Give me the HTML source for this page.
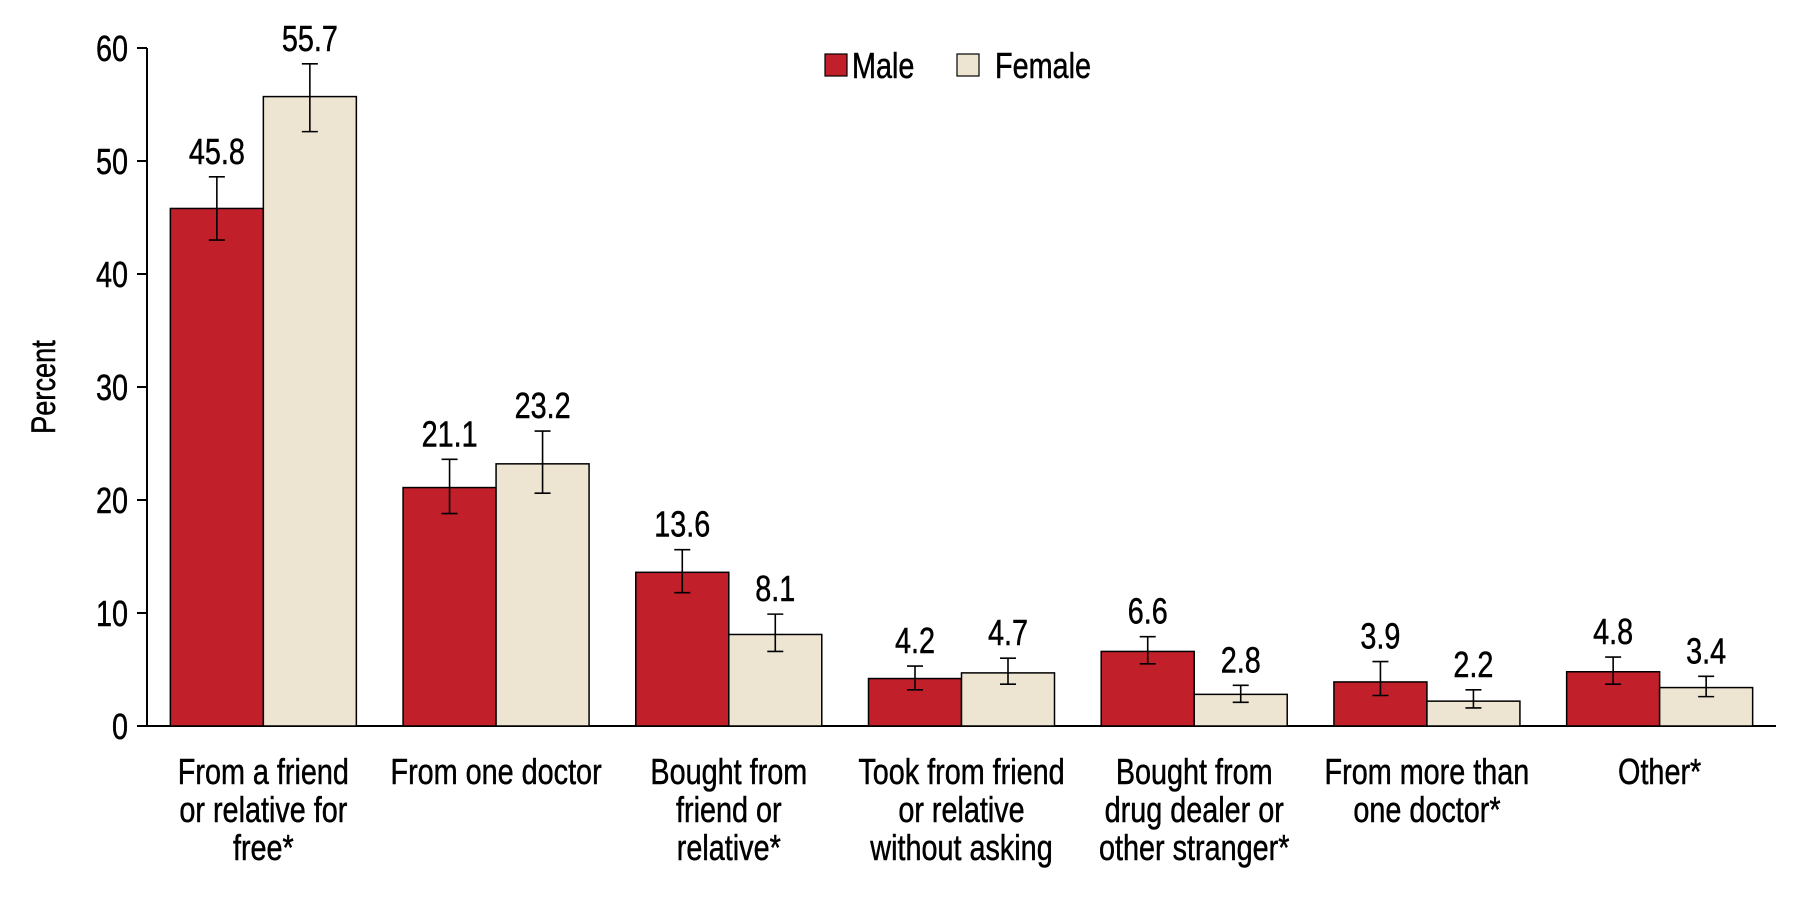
<!DOCTYPE html>
<html><head><meta charset="utf-8"><style>
html,body{margin:0;padding:0;background:#fff;}
svg{display:block;font-family:"Liberation Sans",sans-serif;}
svg text{stroke:#000;stroke-width:0.5px;fill:#000;}
</style></head><body>
<svg id="chart" width="1800" height="900" viewBox="0 0 1800 900">
<g id="axes"></g>
<g id="bars"></g>
<g id="legend">
<rect x="825" y="54" width="22" height="22" fill="#C1202A" stroke="#000" stroke-width="1.2"/>
<text transform="translate(852,78) scale(0.8,1)" font-size="36">Male</text>
<rect x="957" y="54" width="22" height="22" fill="#EDE5D2" stroke="#000" stroke-width="1.2"/>
<text transform="translate(995,78) scale(0.8,1)" font-size="36">Female</text>
</g>
<text transform="translate(55,387) rotate(-90) scale(0.8,1)" font-size="34" text-anchor="middle">Percent</text>
</svg>
<script>
const categories=[["From a friend","or relative for","free*"],["From one doctor"],["Bought from","friend or","relative*"],["Took from friend","or relative","without asking"],["Bought from","drug dealer or","other stranger*"],["From more than","one doctor*"],["Other*"]];
const maleValues=[45.8,21.1,13.6,4.2,6.6,3.9,4.8];
const maleLow=[43.0,18.8,11.8,3.2,5.5,2.7,3.7];
const maleHigh=[48.6,23.6,15.6,5.3,7.9,5.7,6.1];
const femaleValues=[55.7,23.2,8.1,4.7,2.8,2.2,3.4];
const femaleLow=[52.6,20.6,6.6,3.7,2.1,1.6,2.6];
const femaleHigh=[58.6,26.1,9.9,6.0,3.6,3.2,4.4];
const yTicks=[0,10,20,30,40,50,60];

const NS="http://www.w3.org/2000/svg";
const X0=147,X1=1776,Y0=726,Y60=48;
const yScale=v=>Y0-(v/60)*(Y0-Y60);
const catW=(X1-X0)/categories.length;
const barW=93;
const FS=36,SX=0.8;
const axes=document.getElementById('axes'),bars=document.getElementById('bars');
function mk(tag,attrs,parent){const e=document.createElementNS(NS,tag);for(const k in attrs)e.setAttribute(k,attrs[k]);parent.appendChild(e);return e;}
function txt(x,y,s,anchor,parent){const t=mk('text',{transform:`translate(${x},${y}) scale(${SX},1)`,'font-size':FS,'text-anchor':anchor},parent);t.textContent=s;return t;}

let yl=mk('line',{x1:X0,y1:Y60,x2:X0,y2:Y0,stroke:'#000','stroke-width':2},axes);


let xl=mk('line',{x1:X0,y1:Y0,x2:X1,y2:Y0,stroke:'#000','stroke-width':2},axes);


yTicks.forEach(t=>{
  const y=yScale(t);
  let tk=mk('line',{x1:X0-10,y1:y,x2:X0,y2:y,stroke:'#000','stroke-width':2},axes);
  
  
  let tl=txt(X0-19,y+13,String(t),'end',axes);
  
  
});
function bar(v,lo,hi,x,fill,name){
  const y=yScale(v);
  let r=mk('rect',{x:x,y:y,width:barW,height:Y0-y,fill:fill,stroke:'#000','stroke-width':1.5},bars);
  
  
  const cx=x+barW/2,ylo=yScale(lo),yh=yScale(hi);
  let e=mk('path',{d:`M${cx-8},${yh}H${cx+8}M${cx},${yh}V${ylo}M${cx-8},${ylo}H${cx+8}`,stroke:'#000','stroke-width':1.6,fill:'none'},bars);
  
  
  let t=txt(cx,yh-13,v.toFixed(1),'middle',bars);
  
  
}
categories.forEach((c,i)=>{
  const cx=X0+catW*(i+0.5);
  bar(maleValues[i],maleLow[i],maleHigh[i],cx-barW,'#C1202A','bar-male-'+i);
  bar(femaleValues[i],femaleLow[i],femaleHigh[i],cx,'#EDE5D2','bar-female-'+i);
  const g=mk('g',{},axes);
  
  
  c.forEach((line,j)=>{txt(cx,784+j*38,line,'middle',g);});
});
</script>
</body></html>
